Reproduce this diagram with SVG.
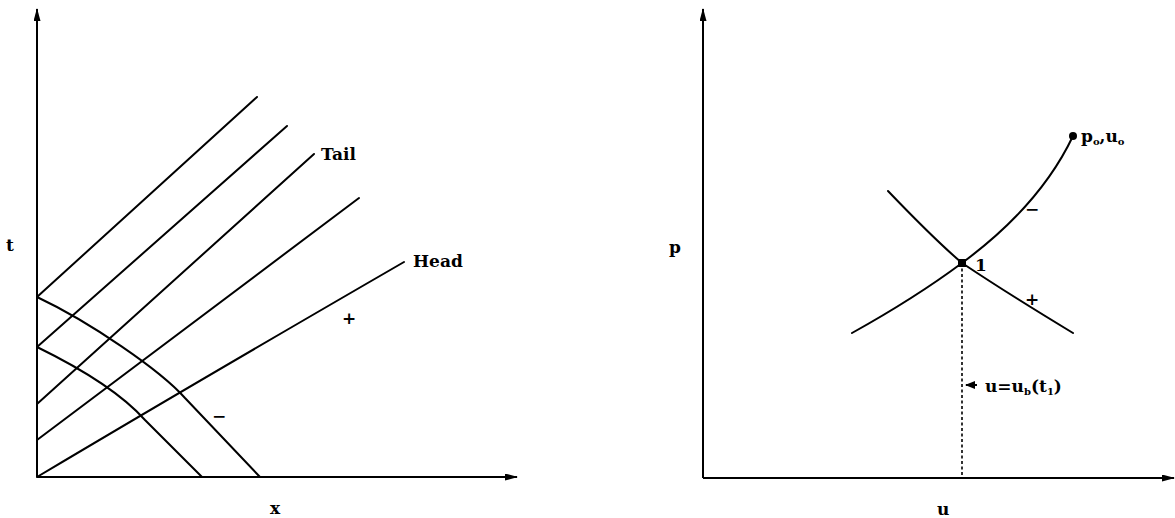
<svg xmlns="http://www.w3.org/2000/svg" width="1175" height="518" viewBox="0 0 1175 518">
<style>
.ln{fill:none;stroke:#000;stroke-width:2;stroke-linecap:round}
.ax{fill:none;stroke:#000;stroke-width:2}
.lb{font-family:"DejaVu Serif","Liberation Serif",serif;font-weight:bold;font-size:17px;fill:#000}
.sb{font-size:10px}
</style>
<defs>
<marker id="ah" viewBox="0 0 13 7" refX="12" refY="3.5" markerWidth="13" markerHeight="7" markerUnits="userSpaceOnUse" orient="auto">
<path d="M0,0 L13,3.5 L0,7 Z" fill="#000"/>
</marker>
<marker id="sa" viewBox="0 0 10 8" refX="1" refY="4" markerWidth="10" markerHeight="8" markerUnits="userSpaceOnUse" orient="auto">
<path d="M10,0 L0,4 L10,8 Z" fill="#000"/>
</marker>
</defs>
<g id="left-axes">
<line class="ax" x1="37" y1="477" x2="37" y2="9" marker-end="url(#ah)"/>
<line class="ax" x1="37" y1="477" x2="517" y2="477" marker-end="url(#ah)"/>
<text class="lb" x="6" y="251">t</text>
<text class="lb" x="270" y="514">x</text>
</g>
<g id="left-connectors">
<line class="ln" x1="37" y1="297" x2="257" y2="97"/>
<line class="ln" x1="37" y1="347" x2="287" y2="126"/>
<line class="ln" x1="37" y1="404" x2="314" y2="154"/>
<line class="ln" x1="37" y1="440" x2="359" y2="198"/>
<path class="ln" d="M37,477 Q200,380 404,262"/>
<path class="ln" d="M37,297 C90,322 160,370 185,398 L260,477"/>
<path class="ln" d="M37,347 C80,368 120,392 145,420 L202,477"/>
</g>
<g id="left-labels">
<text class="lb" x="321" y="160">Tail</text>
<text class="lb" x="413" y="267">Head</text>
<text class="lb" x="342" y="324">+</text>
<text class="lb" x="212" y="422">−</text>
</g>
<g id="right-axes">
<line class="ax" x1="703" y1="478" x2="703" y2="9" marker-end="url(#ah)"/>
<line class="ax" x1="703" y1="478" x2="1174" y2="478" marker-end="url(#ah)"/>
<text class="lb" x="669" y="253">p</text>
<text class="lb" x="937" y="515">u</text>
</g>
<g id="right-connectors">
<path class="ln" d="M888,191 Q935,240 962,263 Q1010,295 1073,333"/>
<path class="ln" d="M852,333 Q915,298 962,263 C1000,235 1045,195 1073,136"/>
<line x1="962" y1="263" x2="962" y2="478" stroke="#000" stroke-width="1.6" stroke-dasharray="3,2.5"/>
<line x1="966" y1="385" x2="977" y2="385" stroke="#000" stroke-width="2" marker-start="url(#sa)"/>
</g>
<g id="point-1">
<rect x="958" y="259" width="8" height="8" fill="#000"/>
<text class="lb" x="975" y="271">1</text>
</g>
<g id="point-0">
<circle cx="1073" cy="136" r="4" fill="#000"/>
<text class="lb" x="1081" y="142">p<tspan class="sb" dy="3">o</tspan><tspan dy="-3">,u</tspan><tspan class="sb" dy="3">o</tspan></text>
</g>
<g id="right-labels">
<text class="lb" x="1025" y="215">−</text>
<text class="lb" x="1025" y="305">+</text>
<text class="lb" x="985" y="392">u=u<tspan class="sb" dy="3">b</tspan><tspan dy="-3">(t</tspan><tspan class="sb" dy="3">1</tspan><tspan dy="-3">)</tspan></text>
</g>
</svg>
